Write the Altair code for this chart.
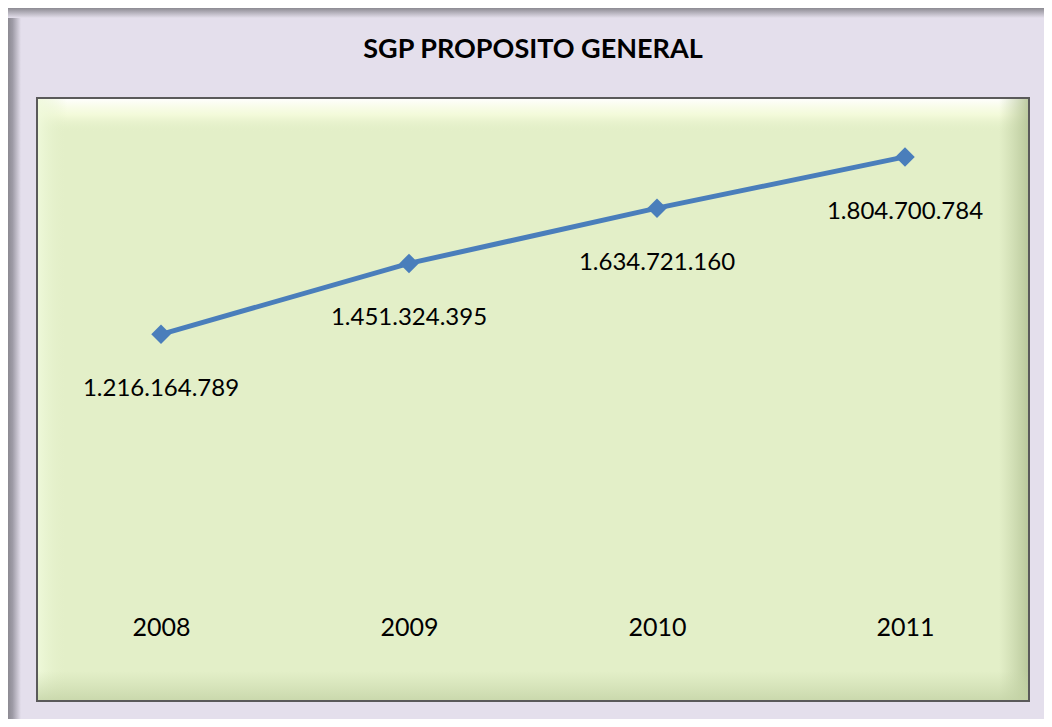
import altair as alt
import pandas as pd

years = ["2008", "2009", "2010", "2011"]
values = [1216164789, 1451324395, 1634721160, 1804700784]
labels = [f"{v:,}".replace(",", ".") for v in values]
title_text = "SGP PROPOSITO GENERAL"

W, H = 992, 603
LINE = "#4A7EBB"
GREEN = "#E3EFC8"
LAV = "#E4DFEC"
FONT = "Lato"

df = pd.DataFrame({"year": years, "value": values, "label": labels})
one = pd.DataFrame({"t": [title_text]})

x = alt.X("year:O", sort=years, scale=alt.Scale(type="point", padding=0.5),
          axis=alt.Axis(orient="bottom", offset=-74, domain=False, ticks=False,
                        labelFontSize=25, labelFont=FONT, labelColor="#000000",
                        labelBaseline="middle", labelPadding=0, labelAngle=0,
                        title=None, grid=False))
y = alt.Y("value:Q", scale=alt.Scale(domain=[0, 2000000000], nice=False, zero=True), axis=None)

def grad(x1, y1, x2, y2, stops):
    return alt.LinearGradient(gradient="linear", x1=x1, y1=y1, x2=x2, y2=y2,
                              stops=[alt.GradientStop(offset=o, color=c) for o, c in stops])

base1 = alt.Chart(one)

# outer frame bands (decoration)
left_band = base1.mark_rect(color=grad(0, 0, 1, 0, [(0, "#8C8A92"), (0.35, "#9E9BA6"), (1, LAV)])).encode(
    x=alt.value(-29), x2=alt.value(-16), y=alt.value(-90), y2=alt.value(H + 18))
top_band = base1.mark_rect(color=grad(0, 0, 0, 1, [(0, "#8C8A92"), (1, LAV)])).encode(
    x=alt.value(-29), x2=alt.value(W + 15), y=alt.value(-90), y2=alt.value(-80))

# bevel inside plot area
top_bevel = base1.mark_rect(color=grad(0, 0, 0, 1, [(0, "rgba(255,255,255,1)"), (0.5, "rgba(250,255,225,0.7)"), (1, "rgba(227,239,200,0)")])).encode(
    x=alt.value(0), x2=alt.value(W), y=alt.value(0), y2=alt.value(34))
right_bevel = base1.mark_rect(color=grad(0, 0, 1, 0, [(0, "rgba(190,205,160,0)"), (1, "rgba(180,195,150,0.9)")])).encode(
    x=alt.value(W - 30), x2=alt.value(W), y=alt.value(0), y2=alt.value(H))
bottom_bevel = base1.mark_rect(color=grad(0, 0, 0, 1, [(0, "rgba(200,215,170,0)"), (1, "rgba(195,210,165,0.8)")])).encode(
    x=alt.value(0), x2=alt.value(W), y=alt.value(H - 30), y2=alt.value(H))
left_bevel = base1.mark_rect(color=grad(0, 0, 1, 0, [(0, "rgba(240,250,220,0.9)"), (1, "rgba(227,239,200,0)")])).encode(
    x=alt.value(0), x2=alt.value(30), y=alt.value(0), y2=alt.value(H))
border = base1.mark_rect(fill=None, stroke="#5A5A5A", strokeWidth=2).encode(
    x=alt.value(0), x2=alt.value(W), y=alt.value(0), y2=alt.value(H))

title = base1.mark_text(font=FONT, fontSize=27, fontWeight="bold", color="#000000",
                        align="center", baseline="alphabetic").encode(
    x=alt.value(W / 2), y=alt.value(-40), text="t:N")

base = alt.Chart(df)
line = base.mark_line(color=LINE, strokeWidth=5).encode(x=x, y=y)
pts = base.mark_point(shape="diamond", filled=True, size=380, color=LINE, opacity=1).encode(x=x, y=y)
txt = base.mark_text(font=FONT, fontSize=24, color="#000000", dy=55, baseline="middle").encode(
    x=x, y=y, text="label:N")

chart = alt.layer(top_bevel, left_bevel, right_bevel, bottom_bevel, border,
                  left_band, top_band, title, line, pts, txt).properties(
    width=W, height=H,
    background=LAV,
    padding={"left": 29, "top": 90, "right": 15, "bottom": 18},
    autosize=alt.AutoSizeParams(type="none"),
).configure_view(fill=GREEN, stroke=None)

chart.save("out.html", embed_options={"renderer": "svg", "actions": False})
